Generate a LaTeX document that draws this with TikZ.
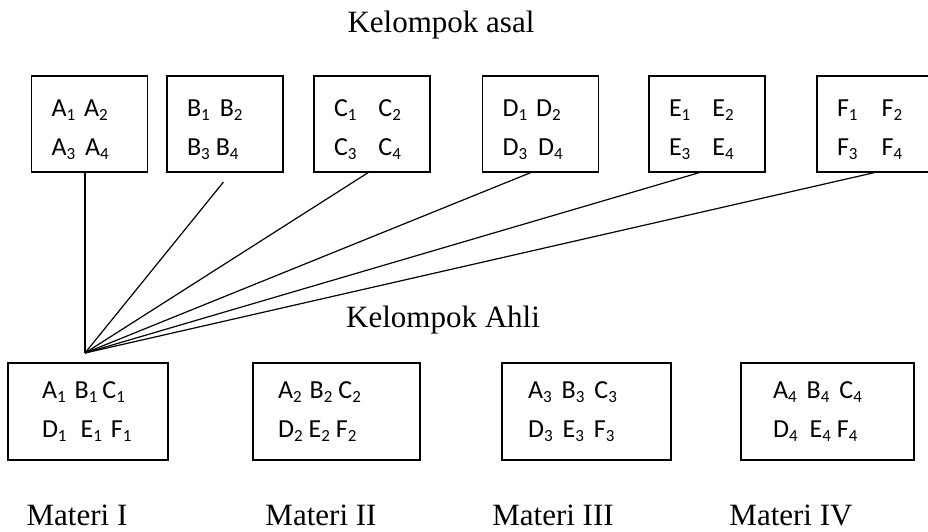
\documentclass[tikz,border=0pt]{standalone}
\usepackage{fontspec}
\setmainfont{Liberation Serif}
\newfontfamily\carlito{Carlito}
\usepackage{tikz}
\newcommand{\siswa}[2]{#1\raisebox{-4pt}{\fontsize{17}{17}\selectfont #2}}

\begin{document}
\begin{tikzpicture}[x=1pt,y=-1pt,line width=1.2pt,
                    font=\fontsize{31}{36}\selectfont]
  \tikzstyle{kotak}=[draw,line width=1.4pt,text width=76pt,
                    inner xsep=20pt,align=left,
                    font=\carlito\fontsize{26}{39}\selectfont]
  \tikzstyle{asal}=[kotak,minimum height=96pt,
                    execute at begin node=\rule{0pt}{28pt}]
  \tikzstyle{ahli}=[kotak,minimum height=97pt]
  \useasboundingbox (0,0) rectangle (928,531);

  \node[anchor=base] (judul1) at (441,32) {Kelompok asal};

  \node[asal] (A) at (89.5,124) {\siswa{A}{1}\hspace{9pt}\siswa{A}{2}\\\siswa{A}{3}\hspace{10pt}\siswa{A}{4}};
  \node[asal] (B) at (225,124)  {\siswa{B}{1}\hspace{10pt}\siswa{B}{2}\\\siswa{B}{3}\hspace{6pt}\siswa{B}{4}};
  \node[asal] (C) at (372,124)  {\siswa{C}{1}\hspace{22pt}\siswa{C}{2}\\\siswa{C}{3}\hspace{22pt}\siswa{C}{4}};
  \node[asal] (D) at (540.5,124) {\siswa{D}{1}\hspace{9pt}\siswa{D}{2}\\\siswa{D}{3}\hspace{11pt}\siswa{D}{4}};
  \node[asal] (E) at (707,124)  {\siswa{E}{1}\hspace{22pt}\siswa{E}{2}\\\siswa{E}{3}\hspace{22pt}\siswa{E}{4}};
  \node[asal] (F) at (875,124)  {\siswa{F}{1}\hspace{24pt}\siswa{F}{2}\\\siswa{F}{3}\hspace{24pt}\siswa{F}{4}};

  \node[anchor=base] (judul2) at (443,327) {Kelompok Ahli};
  \coordinate (hub) at (85,353);

  \node[ahli,text width=92pt,inner xsep=34pt] (M1) at (88,411.5)
    {\siswa{A}{1}\hspace{9pt}\siswa{B}{1}\hspace{5pt}\siswa{C}{1}\\\siswa{D}{1}\hspace{14pt}\siswa{E}{1}\hspace{9pt}\siswa{F}{1}};
  \node[ahli,text width=117pt,inner xsep=25pt] (M2) at (336.5,411.5)
    {\siswa{A}{2}\hspace{8pt}\siswa{B}{2}\hspace{6pt}\siswa{C}{2}\\\siswa{D}{2}\hspace{6pt}\siswa{E}{2}\hspace{6pt}\siswa{F}{2}};
  \node[ahli,text width=117pt,inner xsep=26pt] (M3) at (586.5,411.5)
    {\siswa{A}{3}\hspace{10pt}\siswa{B}{3}\hspace{10pt}\siswa{C}{3}\\\siswa{D}{3}\hspace{10pt}\siswa{E}{3}\hspace{10pt}\siswa{F}{3}};
  \node[ahli,text width=109pt,inner xsep=32pt] (M4) at (827.5,411.5)
    {\siswa{A}{4}\hspace{10pt}\siswa{B}{4}\hspace{10pt}\siswa{C}{4}\\\siswa{D}{4}\hspace{12pt}\siswa{E}{4}\hspace{6pt}\siswa{F}{4}};

  \node[anchor=base] (L1) at (77,525)  {Materi I};
  \node[anchor=base] (L2) at (321,525) {Materi II};
  \node[anchor=base] (L3) at (553,525) {Materi III};
  \node[anchor=base] (L4) at (791,525) {Materi IV};

  \path (A.south -| hub)        edge                   (hub)
        ([xshift=6pt]B.south)   edge[shorten <=12pt]   (hub)
        ([xshift=-4pt]C.south)  edge                   (hub)
        ([xshift=-10pt]D.south) edge                   (hub)
        ([xshift=-8pt]E.south)  edge                   (hub)
        ([xshift=-1pt]F.south)  edge                   (hub);
\end{tikzpicture}
\end{document}
